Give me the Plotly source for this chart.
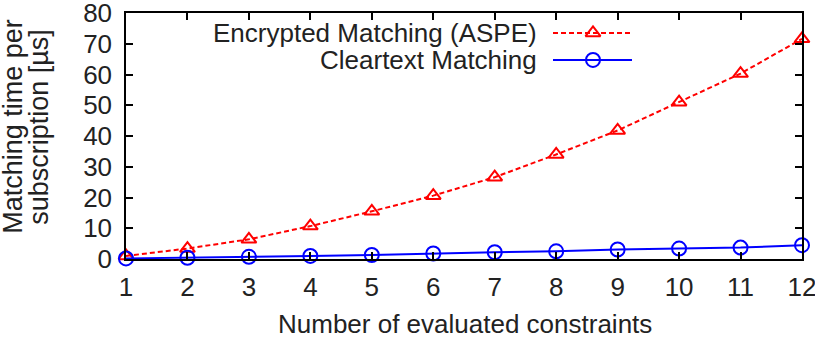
import plotly.graph_objects as go

constraints = list(range(1, 13))
encrypted = [1.0, 3.4, 6.4, 10.7, 15.5, 20.6, 26.6, 34.0, 41.8, 51.0, 60.3, 71.6]
cleartext = [0.2, 0.4, 0.7, 1.0, 1.3, 1.8, 2.2, 2.5, 3.1, 3.4, 3.7, 4.5]
x_ticks = list(range(1, 13))
y_ticks = list(range(0, 90, 10))

FONT = "Liberation Sans, Arial, Helvetica, sans-serif"
FS = 26
TXT = "#222222"
RED = "#ff0000"
BLUE = "#0000ff"

L, R, T, B = 126, 13, 13, 84.5
W, H = 815, 344
pw, ph = W - L - R, H - T - B

def px(xp):
    return (xp - L) / pw

def py(yp):
    return (H - B - yp) / ph

fig = go.Figure()
fig.add_trace(go.Scatter(
    x=constraints, y=encrypted, mode="lines+markers", name="Encrypted Matching (ASPE)",
    line=dict(color=RED, width=2, dash="5px,3px"),
    marker=dict(symbol="triangle-up-open", size=13, color=RED, line=dict(width=2, color=RED)),
    showlegend=False, cliponaxis=False))
fig.add_trace(go.Scatter(
    x=constraints, y=cleartext, mode="lines+markers", name="Cleartext Matching",
    line=dict(color=BLUE, width=2),
    marker=dict(symbol="circle-open", size=14, color=BLUE, line=dict(width=2, color=BLUE)),
    showlegend=False, cliponaxis=False))

# custom gnuplot-style legend (text left, sample right)
leg_rows = [("Encrypted Matching (ASPE)", 33, RED, "5px,3px", "triangle-up-open", 13),
            ("Cleartext Matching", 60, BLUE, "solid", "circle-open", 14)]
for text, yy, col, dash, sym, sz in leg_rows:
    fig.add_annotation(text=text, xref="paper", yref="paper", x=px(539), y=py(yy),
                       xanchor="right", yanchor="middle", showarrow=False,
                       font=dict(family=FONT, size=FS, color=TXT))
    fig.add_trace(go.Scatter(x=[px(553), px(632)], y=[py(yy), py(yy)], mode="lines",
                             line=dict(color=col, width=2, dash=dash),
                             xaxis="x2", yaxis="y2", showlegend=False, hoverinfo="skip"))
    fig.add_trace(go.Scatter(x=[px(593)], y=[py(yy)], mode="markers",
                             marker=dict(symbol=sym, size=sz, color=col, line=dict(width=2, color=col)),
                             xaxis="x2", yaxis="y2", showlegend=False, hoverinfo="skip"))

fig.add_annotation(text="Number of evaluated constraints", xref="paper", yref="paper",
                   x=px(465), y=py(325), xanchor="center", yanchor="middle", showarrow=False,
                   font=dict(family=FONT, size=FS, color=TXT))
for line, xc in [("Matching time per", 13), ("subscription [µs]", 39)]:
    fig.add_annotation(text=line, xref="paper", yref="paper",
                       x=px(xc), y=py(127), xanchor="center", yanchor="middle", showarrow=False,
                       textangle=-90, font=dict(family=FONT, size=27, color=TXT))

axis_common = dict(showline=True, linecolor="black", linewidth=1.5, mirror="ticks",
                   ticks="inside", ticklen=7, tickwidth=1.5, tickcolor="black",
                   showgrid=False, zeroline=False, ticklabeloverflow="allow",
                   automargin=False,
                   tickfont=dict(family=FONT, size=FS, color=TXT))
fig.update_layout(
    width=W, height=H, margin=dict(l=L, r=R, t=T, b=B, autoexpand=False),
    plot_bgcolor="white", paper_bgcolor="white",
    xaxis=dict(range=[1, 12], tickvals=x_ticks, ticklabelstandoff=4, **axis_common),
    yaxis=dict(range=[0, 80], tickvals=y_ticks, ticklabelstandoff=7, **axis_common),
    xaxis2=dict(range=[0, 1], overlaying="x", visible=False, fixedrange=True, automargin=False),
    yaxis2=dict(range=[0, 1], overlaying="y", visible=False, fixedrange=True, automargin=False),
)
fig.write_html("out.html")
